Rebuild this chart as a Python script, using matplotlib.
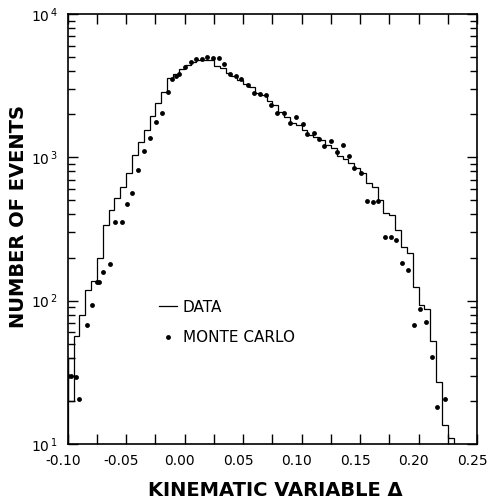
import numpy as np
import matplotlib
matplotlib.use('Agg')
import matplotlib.pyplot as plt
import matplotlib.transforms as mtransforms
from matplotlib.ticker import MultipleLocator, LogLocator, FuncFormatter, NullFormatter
from matplotlib.lines import Line2D

plt.rcParams['font.family'] = ['DejaVu Sans']
plt.rcParams['mathtext.default'] = 'regular'

# histogram (DATA), bins of 0.005 starting at -0.10
bin_lo = -0.10
bin_hi = 0.23
data_counts = [40, 57, 80, 119, 137, 200, 337, 429, 517, 623, 781, 1030, 1286,
               1540, 1937, 2410, 2840, 3560, 3810, 4110, 4410, 4650,
               4750, 4800, 4780,
               4330, 4180, 3860, 3710, 3460, 3250, 3110, 2830, 2720, 2480,
               2320, 2060, 1900, 1745, 1680, 1550, 1430, 1380, 1320, 1220,
               1155, 1020, 970, 910, 840, 775, 660, 620, 503, 410, 395, 312,
               238, 216, 124, 93, 88, 52, 27, 13.5, 11]
first_bin_low = 20

# monte carlo points
mc_x = [-0.1000, -0.0976, -0.0932, -0.0901, -0.0837, -0.0795, -0.0750, -0.0731,
        -0.0695, -0.0640, -0.0595, -0.0535, -0.0495, -0.0450, -0.0396, -0.0346,
        -0.0296, -0.0247, -0.0196, -0.0146, -0.0105, -0.0075, -0.0048, 0.0003,
        0.0050, 0.0098, 0.0151, 0.0194, 0.0246, 0.0294, 0.0337, 0.0391,
        0.0440, 0.0482, 0.0541, 0.0592, 0.0645, 0.0698, 0.0737, 0.0793,
        0.0847, 0.0898, 0.0950, 0.1009, 0.1050, 0.1107, 0.1148, 0.1194,
        0.1250, 0.1301, 0.1352, 0.1406, 0.1449, 0.1504, 0.1558, 0.1607,
        0.1654, 0.1714, 0.1764, 0.1810, 0.1857, 0.1907, 0.1958, 0.2010,
        0.2068, 0.2114, 0.2162, 0.2222]
mc_y = [29.8, 29.8, 29.4, 20.5, 67.2, 92.9, 135.5, 135.5,
        158, 180, 355, 355, 475, 566, 818, 1107,
        1357, 1772, 2028, 2842, 3530, 3692, 3783, 4267,
        4587, 4853, 4830, 5035, 4908, 4955, 4506, 3813,
        3722, 3519, 3195, 2797, 2752, 2700, 2336, 2028,
        2028, 1727, 1920, 1719, 1443, 1478, 1336, 1203,
        1306, 1089, 1214, 1029, 838, 780, 498, 484,
        498, 279, 279, 265, 184, 164, 67.5, 87,
        71.3, 40.2, 18.2, 20.5]

edges = np.linspace(bin_lo, bin_hi, len(data_counts) + 1)

fig = plt.figure(figsize=(4.9, 5.03), dpi=100)
ax = fig.add_axes([0.1382, 0.1173, 0.8353, 0.8549])

ax.stairs(data_counts, edges, baseline=10, color='k', lw=0.9)
ax.stairs([first_bin_low], edges[:2], baseline=data_counts[0], color='k', lw=0.9)
ax.plot(mc_x, mc_y, 'o', color='k', ms=3.5, mew=0, ls='none')

ax.set_yscale('log')
ax.set_xlim(-0.10, 0.25)
ax.set_ylim(10, 1e4)

ax.xaxis.set_major_locator(MultipleLocator(0.05))
ax.xaxis.set_minor_locator(MultipleLocator(0.025))
ax.xaxis.set_major_formatter(FuncFormatter(lambda v, p: '%.2f' % (round(v, 2) + 0.0)))
ax.yaxis.set_major_locator(LogLocator(base=10))
ax.yaxis.set_minor_locator(LogLocator(base=10, subs=range(2, 10)))
ax.yaxis.set_minor_formatter(NullFormatter())
ax.yaxis.set_major_formatter(FuncFormatter(lambda v, p: r'$10^{\,%d}$' % round(np.log10(v))))

ax.tick_params(which='both', direction='in', top=True, right=True, width=1)
ax.tick_params(which='major', length=7, labelsize=10)
ax.tick_params(axis='x', which='minor', length=7)
ax.tick_params(axis='y', which='minor', length=5)
ax.tick_params(axis='x', pad=7)
ax.tick_params(axis='y', pad=7)
for s in ax.spines.values():
    s.set_linewidth(1.2)

ax.set_xlabel('KINEMATIC VARIABLE Δ', fontsize=14, fontweight='bold', va='center')
ax.xaxis.set_label_coords(0.508, -0.109)
ax.set_ylabel('NUMBER OF EVENTS', fontsize=14, fontweight='bold')
ax.yaxis.set_label_coords(-0.097, 0.53)

handles = [Line2D([], [], color='k', lw=0.9),
           Line2D([], [], marker='o', ls='none', color='k', ms=3.5, mew=0)]
ax.legend(handles, ['DATA', 'MONTE CARLO'], loc='center left',
          bbox_to_anchor=(0.223, 0.283), frameon=False, fontsize=11,
          handlelength=1.2, handletextpad=0.35, labelspacing=1.0,
          borderpad=0, borderaxespad=0, numpoints=1)

# tick labels sit a little left of their ticks in the original
shift = mtransforms.ScaledTranslation(-5 / 100, 0, fig.dpi_scale_trans)
for lab in ax.get_xticklabels():
    lab.set_transform(lab.get_transform() + shift)

fig.savefig('out.png', dpi=100)
